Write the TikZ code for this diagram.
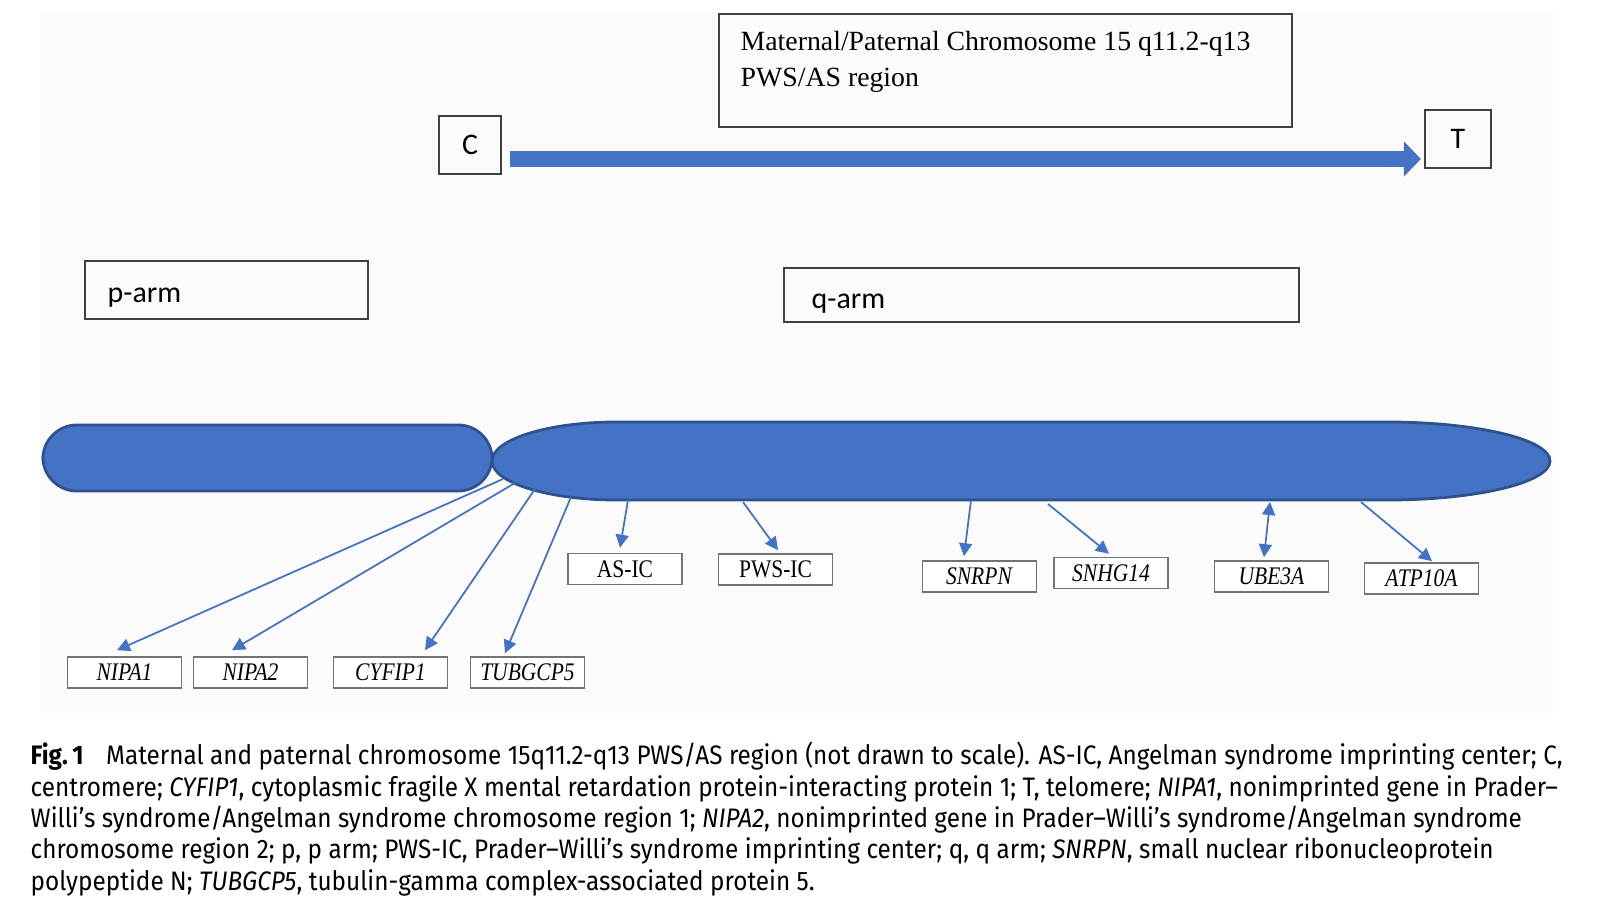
\documentclass[tikz,border=0pt]{standalone}
\usepackage{fontspec}
\usepackage{xcolor}
\usetikzlibrary{arrows.meta,calc}
\setmainfont{Liberation Serif}
\newfontfamily\labelfont{Carlito}
\newfontfamily\capfont[FakeStretch=0.91]{Fira Sans}
\newfontfamily\genefont[FakeStretch=0.85]{Liberation Serif}
\definecolor{chromblue}{HTML}{4472C4}
\definecolor{chromedge}{HTML}{2F528F}
\newcommand{\gname}[1]{\textit{#1}}% gene symbol
\tikzset{
  boxlabel/.style={draw=black!75,line width=0.6pt,inner sep=0pt},
  armfont/.style={font=\labelfont\fontsize{8.5}{10}\selectfont},
  genebox/.style={draw=black!55,fill=white,line width=0.45pt,minimum width=1.14cm,
    minimum height=0.31cm,inner sep=0pt,font=\genefont\fontsize{7.2}{8}\selectfont},
  genearrow/.style={draw=chromblue,line width=0.5pt,>={Triangle[length=0.13cm,width=0.13cm]},->},
  bararrow/.style={draw=chromblue,line width=0.16cm,-{Triangle[length=0.17cm,width=0.34cm]}},
  chrom/.style={fill=chromblue,draw=chromedge,line width=0.8pt}
}

\begin{document}
\begin{tikzpicture}[x=0.01cm,y=-0.01cm]
  \useasboundingbox (0,0) rectangle (1600,921);
  \fill[black!1.5] (40,12) rectangle (1553,713);
  % region title, centromere and telomere
  \node[boxlabel,minimum width=5.73cm,minimum height=1.13cm] (region) at (1005.5,70.5) {};
  \node[anchor=north west,align=left,inner sep=0pt,font=\fontsize{7.9}{10}\selectfont] (regiontext) at (740,31)
    {Maternal/Paternal Chromosome 15 q11.2-q13\\PWS/AS region};
  \node[boxlabel,armfont,minimum width=0.62cm,minimum height=0.58cm] (cbox) at (470,145) {C};
  \node[boxlabel,armfont,minimum width=0.66cm,minimum height=0.58cm] (tbox) at (1458,139) {T};
  \coordinate (cbar) at ($(cbox.east)+(8,14)$);
  \coordinate (tbar) at ($(tbox.west)+(-3,20)$);
  \draw[bararrow] (cbar) -- (tbar);
  % arms
  \node[boxlabel,minimum width=2.83cm,minimum height=0.58cm] (pbox) at (226.5,290) {};
  \node[armfont,anchor=base west,inner sep=0pt] (plabel) at (107,302) {p-arm};
  \node[boxlabel,minimum width=5.15cm,minimum height=0.54cm] (qbox) at (1041.5,295) {};
  \node[armfont,anchor=base west,inner sep=0pt] (qlabel) at (811,308) {q-arm};
  % chromosome
  \node[chrom,rounded corners=0.34cm,minimum width=4.49cm,minimum height=0.66cm] (parm) at (267.5,458) {};
  \draw[chrom] (492,461) .. controls (492,439.5) and (548,422) .. (617,422) -- (1387,422)
    .. controls (1477,422) and (1550,439.5) .. (1550,461)
    .. controls (1550,482.5) and (1477,500) .. (1387,500) -- (617,500)
    .. controls (548,500) and (492,482.5) .. (492,461) -- cycle;
  \coordinate (s1) at (503,479);
  \coordinate (s2) at (515,483);
  \coordinate (s3) at (535,489);
  \coordinate (s4) at (571,497);
  \coordinate (s5) at (628,500);
  \coordinate (s6) at (743,502);
  \coordinate (s7) at (971,500);
  \coordinate (s8) at (1048,504);
  \coordinate (s9) at (1270,502);
  \coordinate (s10) at (1361,502);
  % genes
  \node[genebox] (nipa1) at (124.5,672.5) {\gname{NIPA1}};
  \node[genebox] (nipa2) at (250.5,672.5) {\gname{NIPA2}};
  \node[genebox] (cyfip1) at (390.5,672.5) {\gname{CYFIP1}};
  \node[genebox] (tubgcp5) at (527.5,672.5) {\gname{TUBGCP5}};
  \node[genebox] (asic) at (625,569) {AS-IC};
  \node[genebox] (pwsic) at (775.5,569.5) {PWS-IC};
  \node[genebox] (snrpn) at (979.5,576.5) {\gname{SNRPN}};
  \node[genebox] (snhg14) at (1111,573) {\gname{SNHG14}};
  \node[genebox] (ube3a) at (1271.5,576.5) {\gname{UBE3A}};
  \node[genebox] (atp10a) at (1421.5,578.5) {\gname{ATP10A}};
  \draw[genearrow] (s1) -- ($(nipa1.north)+(-7.5,-6)$);
  \draw[genearrow] (s2) -- ($(nipa2.north)+(-18.5,-6)$);
  \draw[genearrow] (s3) -- ($(cyfip1.north)+(34.5,-6)$);
  \draw[genearrow] (s4) -- ($(tubgcp5.north)+(-22.5,-3)$);
  \draw[genearrow] (s5) -- ($(asic.north)+(-5,-5)$);
  \draw[genearrow] (s6) -- ($(pwsic.north)+(2.5,-3)$);
  \draw[genearrow] (s7) -- ($(snrpn.north)+(-15.5,-4)$);
  \draw[genearrow] (s8) -- ($(snhg14.north)+(-2,-3)$);
  \draw[genearrow,<->] (s9) -- ($(ube3a.north)+(-7.5,-3)$);
  \draw[genearrow] (s10) -- ($(atp10a.north)+(10.5,-1)$);
  % caption
  \node[anchor=base west,align=left,inner sep=0pt,font=\capfont\fontsize{7.6}{8.9}\selectfont] (caption) at (30,890)
    {\textbf{Fig.\,1}\hspace{0.6em} Maternal and paternal chromosome 15q11.2-q13 PWS/AS region (not drawn to scale). AS-IC, Angelman syndrome imprinting center; C,\\
     centromere; \textit{CYFIP1}, cytoplasmic fragile X mental retardation protein-interacting protein 1; T, telomere; \textit{NIPA1}, nonimprinted gene in Prader–\\
     Willi’s syndrome/Angelman syndrome chromosome region 1; \textit{NIPA2}, nonimprinted gene in Prader–Willi’s syndrome/Angelman syndrome\\
     chromosome region 2; p, p arm; PWS-IC, Prader–Willi’s syndrome imprinting center; q, q arm; \textit{SNRPN}, small nuclear ribonucleoprotein\\
     polypeptide N; \textit{TUBGCP5}, tubulin-gamma complex-associated protein 5.};
\end{tikzpicture}
\end{document}
